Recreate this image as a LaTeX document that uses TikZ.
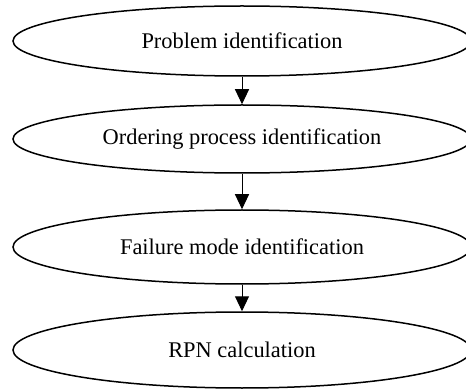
\documentclass[tikz,border=0pt]{standalone}
\usepackage{fontspec}
\setmainfont{Liberation Serif}
\usetikzlibrary{shapes.geometric,arrows.meta}
\begin{document}
\begin{tikzpicture}[x=1pt,y=-1pt,
  stage/.style={draw,ellipse,line width=1.5pt,minimum width=458pt,inner sep=0pt,font=\fontsize{22.4}{26}\selectfont},
  flow/.style={-{Triangle[width=14pt,length=15pt]},line width=1pt}]
\useasboundingbox (0,0) rectangle (466,390);
\node[stage,minimum height=70pt] (problem) at (242,41) {Problem identification};
\node[stage,minimum height=68pt] (ordering) at (242,139) {Ordering process identification};
\node[stage,minimum height=74pt] (failure) at (242,247) {Failure mode identification};
\node[stage,minimum height=76pt] (rpn) at (242,350) {RPN calculation};
\draw[flow] (problem) -- (ordering);
\draw[flow] (ordering) -- (failure);
\draw[flow] (failure) -- (rpn);
\end{tikzpicture}
\end{document}
